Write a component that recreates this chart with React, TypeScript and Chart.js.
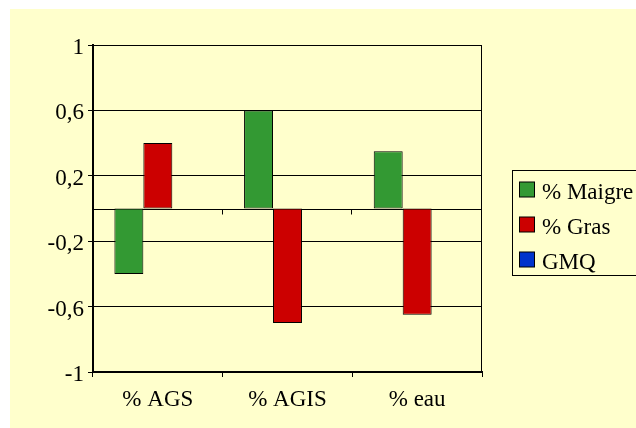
import React, { useEffect, useRef } from "react";
import { Chart, registerables } from "chart.js";

Chart.register(...registerables);

const categories = ["% AGS", "% AGIS", "% eau"];
const seriesLabels = ["% Maigre", "% Gras", "GMQ"];
const maigre = [-0.4, 0.6, 0.35];
const gras = [0.4, -0.7, -0.65];
const gmq = [0, 0, 0];
const seriesColors = ["#339933", "#CC0000", "#0033CC"];
const yTicks = [-1, -0.6, -0.2, 0.2, 0.6, 1];
const yTickLabels = ["-1", "-0,6", "-0,2", "0,2", "0,6", "1"];

const FONT = "serif";

Chart.defaults.font.family = FONT;

const bgPlugin = {
  id: "bgPlugin",
  beforeDraw(chart: any) {
    const ctx = chart.ctx;
    ctx.save();
    ctx.fillStyle = "#ffffff";
    ctx.fillRect(0, 0, chart.width, chart.height);
    ctx.fillStyle = "#FFFFCC";
    ctx.fillRect(10, 9, chart.width - 10, chart.height - 9);
    ctx.restore();
  },
};

const zeroPlugin = {
  id: "zeroPlugin",
  beforeDatasetsDraw(chart: any) {
    const { ctx, chartArea, scales } = chart;
    const y = Math.round(scales.y.getPixelForValue(0)) + 0.5;
    ctx.save();
    ctx.strokeStyle = "#000";
    ctx.lineWidth = 1;
    ctx.beginPath();
    ctx.moveTo(chartArea.left, y);
    ctx.lineTo(chartArea.right, y);
    const n = categories.length;
    const w = (chartArea.right - chartArea.left) / n;
    for (let i = 1; i <= n; i++) {
      const x = Math.round(chartArea.left + i * w) - 0.5;
      ctx.moveTo(x, y);
      ctx.lineTo(x, y + 5);
    }
    ctx.stroke();
    const xr = Math.round(chartArea.right) - 0.5;
    ctx.beginPath();
    ctx.moveTo(xr, chartArea.top);
    ctx.lineTo(xr, chartArea.bottom);
    ctx.stroke();
    ctx.restore();
  },
};

const legendPlugin = {
  id: "customLegend",
  afterDraw(chart: any) {
    const ctx = chart.ctx;
    const left = 512;
    const top = 170;
    const bottom = 275;
    ctx.save();
    ctx.fillStyle = "#FFFFCC";
    ctx.fillRect(left, top, chart.width - left + 5, bottom - top);
    ctx.strokeStyle = "#000";
    ctx.lineWidth = 1;
    ctx.strokeRect(left + 0.5, top + 0.5, chart.width - left + 5, bottom - top);
    ctx.font = "23px " + FONT;
    ctx.textBaseline = "alphabetic";
    ctx.textAlign = "left";
    chart.data.datasets.forEach((ds: any, i: number) => {
      const cy = 189.5 + i * 35;
      ctx.fillStyle = ds.backgroundColor;
      ctx.fillRect(519.5, cy - 7.5, 15, 15);
      ctx.strokeRect(519.5, cy - 7.5, 15, 15);
      ctx.fillStyle = "#000";
      ctx.fillText(ds.label, 542, cy + 9);
    });
    ctx.restore();
  },
};

export default function App() {
  const ref = useRef<HTMLCanvasElement>(null);
  useEffect(() => {
    if (!ref.current) return;
    const warm = ref.current.getContext("2d");
    if (warm) {
      warm.font = "23px " + FONT;
      warm.fillText("% AGS", -100, -100);
    }
    const datasets = [maigre, gras, gmq].map((d, i) => ({
      label: seriesLabels[i],
      data: d,
      backgroundColor: seriesColors[i],
      borderColor: "#000",
      borderWidth: 1,
      borderSkipped: false as any,
      barPercentage: 1,
      categoryPercentage: 0.67,
    }));
    const chart = new Chart(ref.current, {
      type: "bar",
      data: { labels: categories, datasets },
      plugins: [bgPlugin, zeroPlugin, legendPlugin],
      options: {
        animation: false,
        responsive: false,
        devicePixelRatio: 1,
        font: { family: FONT, size: 23 },
        layout: { padding: { left: 0, top: 45, right: 154, bottom: 0 } },
        plugins: { legend: { display: false }, tooltip: { enabled: false } },
        scales: {
          x: {
            afterFit: (s: any) => {
              s.height = 56;
            },
            border: { display: true, color: "#000", width: 2 },
            grid: {
              offset: true,
              drawOnChartArea: false,
              drawTicks: true,
              tickLength: 5,
              color: "#000",
            },
            ticks: { color: "#000", font: { family: FONT, size: 23 }, padding: 9 },
          },
          y: {
            min: -1,
            max: 1,
            afterFit: (s: any) => {
              s.width = 93;
            },
            afterBuildTicks: (s: any) => {
              s.ticks = yTicks.map((v) => ({ value: v }));
            },
            border: { display: true, color: "#000", width: 2 },
            grid: { color: "#000", lineWidth: 1, drawTicks: true, tickLength: 5 },
            ticks: {
              color: "#000",
              font: { family: FONT, size: 23 },
              padding: 4,
              labelOffset: 3,
              callback: (v: any) => {
                const idx = yTicks.findIndex((t) => Math.abs(t - Number(v)) < 1e-6);
                return idx >= 0 ? yTickLabels[idx] : "";
              },
            },
          },
        },
      },
    });
    let alive = true;
    const redraw = () => {
      if (alive) chart.update("none");
    };
    const t1 = setTimeout(redraw, 150);
    const t2 = setTimeout(redraw, 400);
    return () => {
      alive = false;
      clearTimeout(t1);
      clearTimeout(t2);
      chart.destroy();
    };
  }, []);
  return (
    <div style={{ position: "absolute", left: 0, top: 0, width: 636, height: 428 }}>
      <canvas ref={ref} width={636} height={428} style={{ display: "block" }} />
    </div>
  );
}
